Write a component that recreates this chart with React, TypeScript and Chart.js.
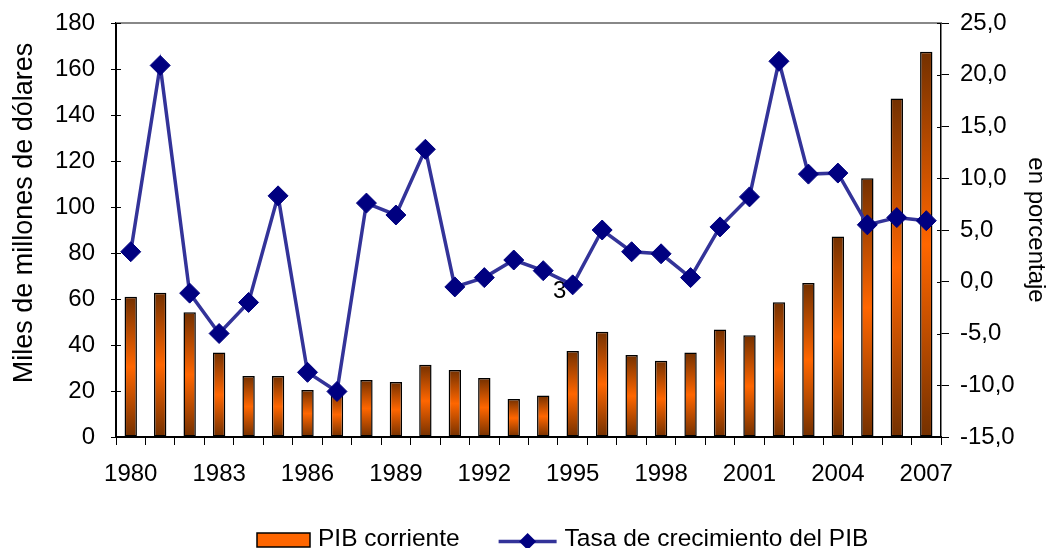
import React, { useEffect, useRef } from "react";
import { Chart, registerables } from "chart.js";

Chart.register(...registerables);

const years: string[] = [
  "1980", "1981", "1982", "1983", "1984", "1985", "1986", "1987", "1988", "1989",
  "1990", "1991", "1992", "1993", "1994", "1995", "1996", "1997", "1998", "1999",
  "2000", "2001", "2002", "2003", "2004", "2005", "2006", "2007",
];
const pibCorriente: number[] = [
  61, 62.7, 54.2, 36.7, 26.5, 26.5, 20.4, 19.5, 24.8, 23.9,
  31.4, 29.1, 25.6, 16.5, 18, 37.4, 45.8, 35.7, 33.2, 36.7,
  46.7, 44.2, 58.6, 67, 87.2, 112.5, 147.2, 167.5,
];
const tasaCrecimiento: number[] = [
  2.9, 20.9, -1.1, -5.0, -2.0, 8.3, -8.75, -10.6, 7.6, 6.45,
  12.8, -0.5, 0.4, 2.1, 1.07, -0.3, 5.0, 2.9, 2.7, 0.4,
  5.3, 8.2, 21.3, 10.4, 10.5, 5.5, 6.2, 5.9,
];
const labelStep = 3;
const strayLabel = { text: "3", index: 15 };
const seriesNames = ["PIB corriente", "Tasa de crecimiento del PIB"];
const leftTitle = "Miles de millones de dólares";
const rightTitle = "en porcentaje";

const FONT = "'Liberation Sans', Arial, sans-serif";
const DARK = "#733000";
const ORANGE = "#ff6600";
const LINE = "#333399";
const MARKER = "#000080";
const TICK_SIZE = 24;

export default function App() {
  const ref = useRef<HTMLCanvasElement | null>(null);

  useEffect(() => {
    const canvas = ref.current;
    if (!canvas) return;

    const decorPlugin = {
      id: "decor",
      beforeDatasetsDraw(chart: any) {
        const { ctx, chartArea, scales } = chart;
        ctx.save();
        ctx.strokeStyle = "#888888";
        ctx.lineWidth = 2;
        ctx.beginPath();
        ctx.moveTo(chartArea.left, chartArea.top);
        ctx.lineTo(chartArea.right, chartArea.top);
        ctx.stroke();
        ctx.strokeStyle = "#000";
        ctx.lineWidth = 1;
        scales.y.ticks.forEach((t: any) => {
          const py = Math.round(scales.y.getPixelForValue(t.value)) + 0.5;
          ctx.beginPath();
          ctx.moveTo(chartArea.left, py);
          ctx.lineTo(chartArea.left + 5, py);
          ctx.stroke();
        });
        scales.y1.ticks.forEach((t: any) => {
          const py = Math.round(scales.y1.getPixelForValue(t.value)) + 0.5;
          ctx.beginPath();
          ctx.moveTo(chartArea.right - 4, py);
          ctx.lineTo(chartArea.right, py);
          ctx.stroke();
        });
        const px = scales.x.getPixelForValue(strayLabel.index);
        const py = scales.y1.getPixelForValue(tasaCrecimiento[strayLabel.index]);
        ctx.fillStyle = "#000";
        ctx.font = `${TICK_SIZE}px ${FONT}`;
        ctx.textAlign = "center";
        ctx.textBaseline = "middle";
        ctx.fillText(strayLabel.text, px - 13, py + 7);
        // left axis title
        ctx.save();
        ctx.translate(24.5, chartArea.top + (chartArea.bottom - chartArea.top) / 2 - 17);
        ctx.rotate(-Math.PI / 2);
        ctx.font = `27px ${FONT}`;
        ctx.fillText(leftTitle, 0, 0);
        ctx.restore();
        ctx.restore();
      },
      afterDraw(chart: any) {
        const { ctx } = chart;
        ctx.save();
        ctx.font = `24.5px ${FONT}`;
        ctx.textBaseline = "alphabetic";
        ctx.textAlign = "left";
        const bx = 257, by = 533, bw = 53, bh = 14;
        ctx.fillStyle = ORANGE;
        ctx.fillRect(bx, by, bw, bh);
        ctx.strokeStyle = "#000";
        ctx.lineWidth = 1.5;
        ctx.strokeRect(bx, by, bw, bh);
        ctx.fillStyle = "#000";
        const t1x = bx + bw + 8;
        ctx.fillText(seriesNames[0], t1x, 546);
        const t1w = ctx.measureText(seriesNames[0]).width;
        const lx = t1x + t1w + 39;
        const lw = 58;
        const ly = 541.5;
        ctx.strokeStyle = LINE;
        ctx.lineWidth = 3.5;
        ctx.beginPath();
        ctx.moveTo(lx, ly);
        ctx.lineTo(lx + lw, ly);
        ctx.stroke();
        const cx = lx + lw / 2, r = 8.5;
        ctx.fillStyle = MARKER;
        ctx.beginPath();
        ctx.moveTo(cx - r, ly);
        ctx.lineTo(cx, ly - r);
        ctx.lineTo(cx + r, ly);
        ctx.lineTo(cx, ly + r);
        ctx.closePath();
        ctx.fill();
        ctx.fillStyle = "#000";
        ctx.fillText(seriesNames[1], lx + lw + 8, 546);
        ctx.restore();
      },
    };

    const chart = new Chart(canvas, {
      type: "bar",
      data: {
        labels: years,
        datasets: [
          {
            type: "line",
            label: seriesNames[1],
            data: tasaCrecimiento,
            yAxisID: "y1",
            borderColor: LINE,
            borderWidth: 3.5,
            pointStyle: "rectRot",
            pointRadius: 10,
            pointBackgroundColor: MARKER,
            pointBorderColor: MARKER,
            pointBorderWidth: 1,
            tension: 0,
            order: 0,
          } as any,
          {
            type: "bar",
            label: seriesNames[0],
            data: pibCorriente,
            yAxisID: "y",
            barPercentage: 0.42,
            categoryPercentage: 1,
            borderColor: "#000",
            borderWidth: 1.5,
            borderSkipped: false,
            order: 1,
            backgroundColor: (c: any) => {
              const chart = c.chart;
              const y = chart.scales && chart.scales.y;
              if (c.type !== "data" || !y) return ORANGE;
              const top = y.getPixelForValue(c.raw);
              const base = y.getPixelForValue(0);
              if (!isFinite(top) || !isFinite(base) || top === base) return ORANGE;
              const g = chart.ctx.createLinearGradient(0, top, 0, base);
              g.addColorStop(0, DARK);
              g.addColorStop(0.5, ORANGE);
              g.addColorStop(1, DARK);
              return g;
            },
          } as any,
        ],
      },
      options: {
        animation: false,
        responsive: false,
        devicePixelRatio: 1,
        layout: { padding: { top: 23, left: 0, right: 0, bottom: 0 } },
        plugins: {
          legend: { display: false },
          tooltip: { enabled: false },
        },
        scales: {
          x: {
            offset: true,
            grid: {
              display: true,
              offset: true,
              drawOnChartArea: false,
              drawTicks: true,
              tickLength: 8,
              color: "#000",
              lineWidth: 1,
            },
            border: { display: true, color: "#000", width: 2 },
            ticks: {
              autoSkip: false,
              maxRotation: 0,
              minRotation: 0,
              padding: 15,
              color: "#000",
              font: { family: FONT, size: TICK_SIZE },
              callback: (_v: any, i: number) => (i % labelStep === 0 ? years[i] : ""),
            },
            afterFit: (s: any) => {
              s.height = 111;
              s.paddingLeft = 0;
              s.paddingRight = 0;
            },
          },
          y: {
            position: "left",
            min: 0,
            max: 180,
            ticks: {
              stepSize: 20,
              padding: 16,
              color: "#000",
              font: { family: FONT, size: TICK_SIZE },
            },
            grid: {
              drawOnChartArea: false,
              drawTicks: true,
              tickLength: 5,
              color: "#000",
            },
            border: { display: true, color: "#000", width: 2 },
            title: { display: false },
            afterFit: (s: any) => {
              s.width = 116;
              s.paddingTop = 0;
              s.paddingBottom = 0;
            },
          },
          y1: {
            position: "right",
            min: -15,
            max: 25,
            ticks: {
              stepSize: 5,
              padding: 11,
              color: "#000",
              font: { family: FONT, size: TICK_SIZE },
              callback: (v: any) => Number(v).toFixed(1).replace(".", ","),
            },
            grid: {
              drawOnChartArea: false,
              drawTicks: true,
              tickLength: 8,
              color: "#000",
            },
            border: { display: true, color: "#000", width: 1.5 },
            title: {
              display: true,
              text: rightTitle,
              color: "#000",
              font: { family: FONT, size: 24, lineHeight: 0.85 },
              padding: { top: 0, bottom: 0 },
            },
            afterFit: (s: any) => {
              s.width = 105;
              s.paddingTop = 0;
              s.paddingBottom = 0;
            },
          },
        },
      },
      plugins: [decorPlugin],
    });

    return () => chart.destroy();
  }, []);

  return (
    <div style={{ position: "fixed", left: 0, top: 0, width: 1046, height: 548, background: "#fff" }}>
      <canvas ref={ref} width={1046} height={548} style={{ display: "block" }} />
    </div>
  );
}
